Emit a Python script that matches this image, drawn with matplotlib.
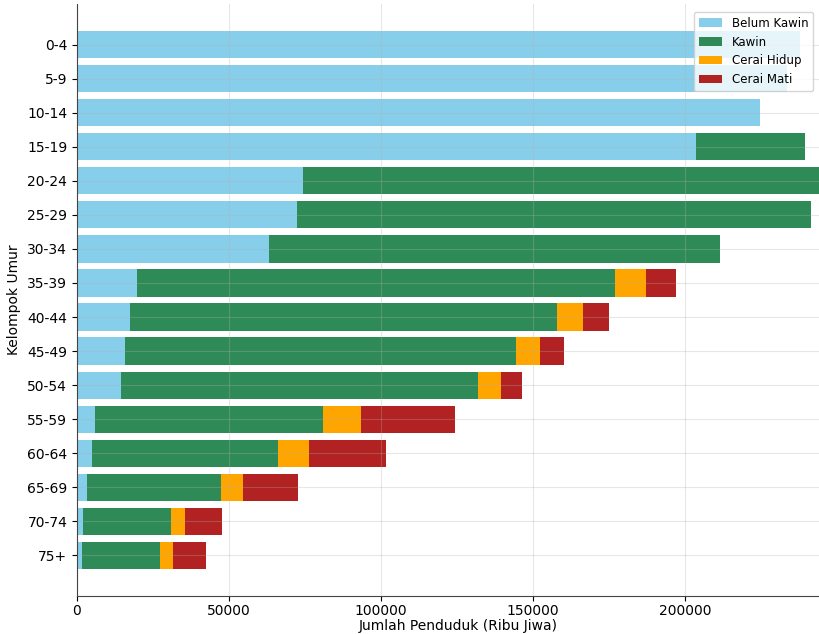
import matplotlib.pyplot as plt
import numpy as np

kelompok = ["0-4", "5-9", "10-14", "15-19", "20-24", "25-29", "30-34", "35-39",
            "40-44", "45-49", "50-54", "55-59", "60-64", "65-69", "70-74", "75+"]

belum_kawin = [238000, 233500, 224600, 203600, 74300, 72400, 63200, 19600,
               17400, 15900, 14500, 6000, 4900, 3300, 2000, 1600]
kawin = [0, 0, 0, 35800, 176000, 169000, 148300, 157500,
         140400, 128500, 117300, 74800, 61100, 44100, 28900, 25700]
cerai_hidup = [0, 0, 0, 0, 0, 0, 0, 10200,
               8700, 8000, 7600, 12600, 10400, 7200, 4600, 4300]
cerai_mati = [0, 0, 0, 0, 0, 0, 0, 9600,
              8600, 7900, 6900, 30800, 25200, 18100, 12200, 10800]
x_ticks = [0, 50000, 100000, 150000, 200000]

fig = plt.figure(figsize=(8.2, 6.34), dpi=100)
ax = fig.add_axes([77/820, 38/634, 763/820, 592/634])

y = np.arange(len(kelompok))
left = np.zeros(len(kelompok))
series = [("Belum Kawin", belum_kawin, "skyblue"),
          ("Kawin", kawin, "seagreen"),
          ("Cerai Hidup", cerai_hidup, "orange"),
          ("Cerai Mati", cerai_mati, "firebrick")]
for name, vals, col in series:
    vals = np.array(vals)
    ax.barh(y, vals, left=left, color=col, label=name, height=0.8)
    left = left + vals

ax.set_yticks(y)
ax.set_yticklabels(kelompok)
ax.invert_yaxis()
ax.set_xlim(0, 251000)
ax.set_xticks(x_ticks)
ax.tick_params(axis='x', pad=2)
ax.grid(True, alpha=0.3)
ax.spines['top'].set_visible(False)
ax.spines['right'].set_visible(False)
ax.spines['left'].set_color('#444444')
ax.spines['bottom'].set_color('#444444')
ax.set_xlabel("Jumlah Penduduk (Ribu Jiwa)", labelpad=1)
ax.set_ylabel("Kelompok Umur")
ax.legend(loc="upper right", fontsize=8.5,
          bbox_to_anchor=(819/820, 628/634), bbox_transform=fig.transFigure)

fig.savefig("out.png", dpi=100)
